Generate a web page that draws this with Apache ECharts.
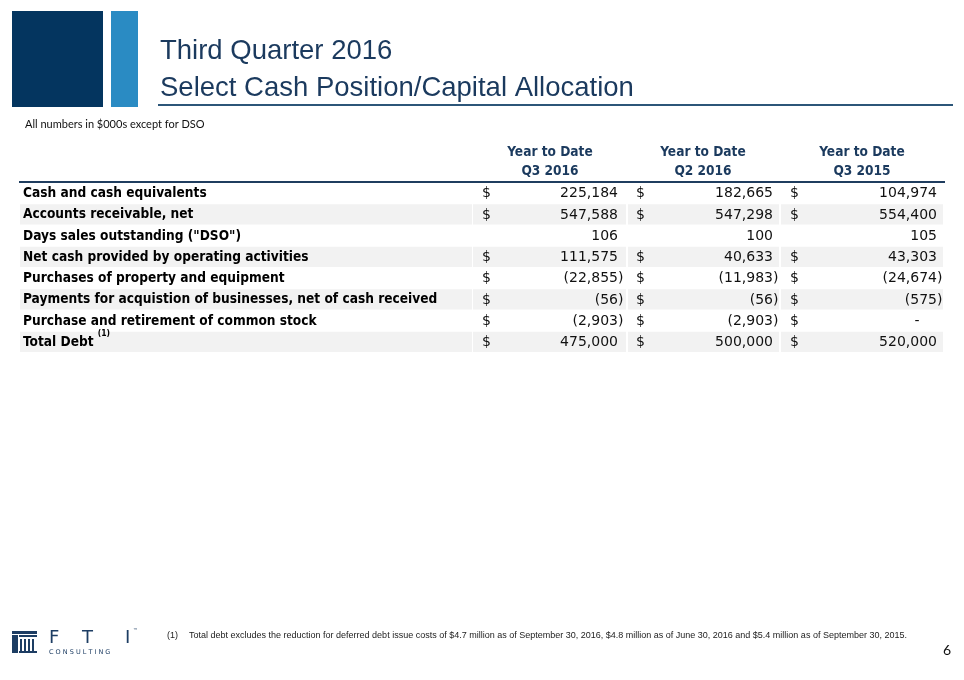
<!DOCTYPE html>
<html>
<head>
<meta charset="utf-8">
<script src="https://cdn.jsdelivr.net/npm/echarts@6/dist/echarts.min.js"></script>
<style>
  html, body { margin: 0; padding: 0; background: #fff; }
  #main { width: 964px; height: 680px; }
</style>
</head>
<body>
<div id="main"></div>
<script>
// row labels and the three year-to-date columns (in $000s, DSO in days)
var rowLabels = [
  'Cash and cash equivalents',
  'Accounts receivable, net',
  'Days sales outstanding ("DSO")',
  'Net cash provided by operating activities',
  'Purchases of property and equipment',
  'Payments for acquistion of businesses, net of cash received',
  'Purchase and retirement of common stock',
  'Total Debt'
];
var columnTitles = ['Q3 2016', 'Q2 2016', 'Q3 2015'];
var ytdQ3_2016 = [225184, 547588, 106, 111575, -22855, -56, -2903, 475000];
var ytdQ2_2016 = [182665, 547298, 100, 40633, -11983, -56, -2903, 500000];
var ytdQ3_2015 = [104974, 554400, 105, 43303, -24674, -575, 0, 520000];
var hasDollar = [true, true, false, true, true, true, true, true];
var footnoteRow = 7;

var navy = '#1b3a5e';
var labelFont = '"DejaVu Sans Condensed", "DejaVu Sans", sans-serif';
var numFont = '"DejaVu Sans", Verdana, sans-serif';
var titleFont = '"Liberation Sans", Arial, sans-serif';
var noteFont = '"Liberation Sans Narrow", "Liberation Sans", sans-serif';

// column geometry: gray band, $ sign x, right edge of the number
var cols = [
  { x0: 473, x1: 626, dollar: 482, right: 618, center: 550, data: ytdQ3_2016 },
  { x0: 628, x1: 779, dollar: 636, right: 773, center: 703, data: ytdQ2_2016 },
  { x0: 781, x1: 943, dollar: 790, right: 937, center: 862, data: ytdQ3_2015 }
];

function fmt(v) {
  if (v === 0) return '-';
  var s = Math.abs(v).toLocaleString('en-US');
  return v < 0 ? '(' + s : s;
}

var myChart = echarts.init(document.getElementById('main'), null, { renderer: 'canvas' });

function renderRow(params, api) {
  var idx = api.value(1);
  var c = api.coord([0, idx]);
  var h = api.size([0, 1])[1];
  var cy = c[1];
  var top = cy - h / 2;
  var children = [];
  if (idx % 2 === 1) {
    children.push({ type: 'rect', shape: { x: 20, y: top, width: 452, height: h - 1 }, style: { fill: '#f2f2f2' } });
    cols.forEach(function (col) {
      children.push({ type: 'rect', shape: { x: col.x0, y: top, width: col.x1 - col.x0, height: h - 1 }, style: { fill: '#f2f2f2' } });
    });
  }
  var label = rowLabels[idx];
  if (idx === footnoteRow) {
    children.push({
      type: 'text', x: 23, y: cy - 3,
      style: {
        text: '{b|' + label + ' }{s|(1)}',
        verticalAlign: 'middle',
        rich: {
          b: { fontFamily: labelFont, fontWeight: 'bold', fontSize: 13.6, fill: '#000', lineHeight: 20, verticalAlign: 'bottom' },
          s: { fontFamily: labelFont, fontWeight: 'bold', fontSize: 8.5, fill: '#000', lineHeight: 20, verticalAlign: 'top' }
        }
      }
    });
  } else {
    children.push({
      type: 'text', x: 23, y: cy,
      style: { text: label, fontFamily: labelFont, fontWeight: 'bold', fontSize: 13.6, fill: '#000', verticalAlign: 'middle' }
    });
  }
  cols.forEach(function (col) {
    var v = col.data[idx];
    if (hasDollar[idx]) {
      children.push({ type: 'text', x: col.dollar, y: cy, style: { text: '$', fontFamily: numFont, fontSize: 14, fill: '#111', verticalAlign: 'middle' } });
    }
    if (v === 0) {
      children.push({ type: 'text', x: col.right - 20, y: cy, style: { text: '-', fontFamily: numFont, fontSize: 14, fill: '#111', align: 'center', verticalAlign: 'middle' } });
      return;
    }
    children.push({ type: 'text', x: col.right, y: cy, style: { text: fmt(v), fontFamily: numFont, fontSize: 14, fill: '#111', align: 'right', verticalAlign: 'middle' } });
    if (v < 0) {
      children.push({ type: 'text', x: col.right, y: cy, style: { text: ')', fontFamily: numFont, fontSize: 14, fill: '#111', align: 'left', verticalAlign: 'middle' } });
    }
  });
  return { type: 'group', children: children };
}

// static slide decoration
var logo = '#1d3d63';
var graphics = [
  { type: 'rect', shape: { x: 12, y: 11, width: 91, height: 96 }, style: { fill: '#04355f' } },
  { type: 'rect', shape: { x: 111, y: 11, width: 27, height: 96 }, style: { fill: '#2a8bc3' } },
  { type: 'text', x: 160, y: 51, style: { text: 'Third Quarter 2016', fontFamily: titleFont, fontSize: 27.5, fill: navy, verticalAlign: 'middle' } },
  { type: 'text', x: 160, y: 88, style: { text: 'Select Cash Position/Capital Allocation', fontFamily: titleFont, fontSize: 27.5, fill: navy, verticalAlign: 'middle' } },
  { type: 'rect', shape: { x: 158, y: 104, width: 795, height: 2 }, style: { fill: '#2c5679' } },
  { type: 'text', x: 25, y: 124, style: { text: 'All numbers in $000s except for DSO', fontFamily: 'Lato, "Open Sans", sans-serif', fontSize: 11, fill: '#111', verticalAlign: 'middle' } },
  { type: 'rect', shape: { x: 19, y: 181, width: 926, height: 2 }, style: { fill: '#1f3d5f' } },
  // footnote and page number
  { type: 'text', x: 167, y: 636, style: { text: '(1)', fontFamily: noteFont, fontSize: 9, fill: '#222', verticalAlign: 'middle' } },
  { type: 'text', x: 189, y: 636, style: { text: 'Total debt excludes the reduction for deferred debt issue costs of $4.7 million as of September 30, 2016, $4.8 million as of June 30, 2016 and $5.4 million as of September 30, 2015.', fontFamily: noteFont, fontSize: 9, fill: '#222', verticalAlign: 'middle' } },
  { type: 'text', x: 943, y: 650, style: { text: '6', fontFamily: 'Lato, sans-serif', fontSize: 14, fill: '#111', verticalAlign: 'middle' } },
  // FTI logo
  { type: 'rect', shape: { x: 12, y: 631, width: 25, height: 3 }, style: { fill: logo } },
  { type: 'rect', shape: { x: 12, y: 635, width: 6, height: 18 }, style: { fill: logo } },
  { type: 'rect', shape: { x: 19, y: 635, width: 18, height: 2 }, style: { fill: logo } },
  { type: 'rect', shape: { x: 20, y: 639, width: 2, height: 14 }, style: { fill: logo } },
  { type: 'rect', shape: { x: 24, y: 639, width: 2, height: 14 }, style: { fill: logo } },
  { type: 'rect', shape: { x: 28, y: 639, width: 2, height: 14 }, style: { fill: logo } },
  { type: 'rect', shape: { x: 32, y: 639, width: 2, height: 14 }, style: { fill: logo } },
  { type: 'rect', shape: { x: 19, y: 651, width: 18, height: 2 }, style: { fill: logo } },
  { type: 'text', x: 49, y: 638, style: { text: 'F', fontFamily: '"DejaVu Sans", sans-serif', fontSize: 18, fill: logo, verticalAlign: 'middle' } },
  { type: 'text', x: 82, y: 638, style: { text: 'T', fontFamily: '"DejaVu Sans", sans-serif', fontSize: 18, fill: logo, verticalAlign: 'middle' } },
  { type: 'text', x: 125, y: 638, style: { text: 'I', fontFamily: '"DejaVu Sans", sans-serif', fontSize: 18, fill: logo, verticalAlign: 'middle' } },
  { type: 'text', x: 133, y: 631, style: { text: '\u2122', fontFamily: '"DejaVu Sans", sans-serif', fontSize: 5, fill: logo, verticalAlign: 'middle' } },
  { type: 'text', x: 49, y: 652, style: { text: 'C O N S U L T I N G', fontFamily: '"DejaVu Sans", sans-serif', fontSize: 6.5, fill: logo, verticalAlign: 'middle' } }
];
columnTitles.forEach(function (t, i) {
  graphics.push({ type: 'text', x: cols[i].center, y: 152, style: { text: 'Year to Date', fontFamily: labelFont, fontWeight: 'bold', fontSize: 13.6, fill: navy, align: 'center', verticalAlign: 'middle' } });
  graphics.push({ type: 'text', x: cols[i].center, y: 171, style: { text: t, fontFamily: labelFont, fontWeight: 'bold', fontSize: 13.6, fill: navy, align: 'center', verticalAlign: 'middle' } });
});

var option = {
  animation: false,
  backgroundColor: '#fff',
  grid: { left: 20, right: 21, top: 183, height: 170 },
  xAxis: { type: 'value', show: false, min: 0, max: 1 },
  yAxis: { type: 'category', show: false, inverse: true, data: rowLabels },
  graphic: graphics,
  series: [{
    type: 'custom',
    renderItem: renderRow,
    data: rowLabels.map(function (l, i) { return [0, i]; })
  }]
};
myChart.setOption(option);
</script>
</body>
</html>
